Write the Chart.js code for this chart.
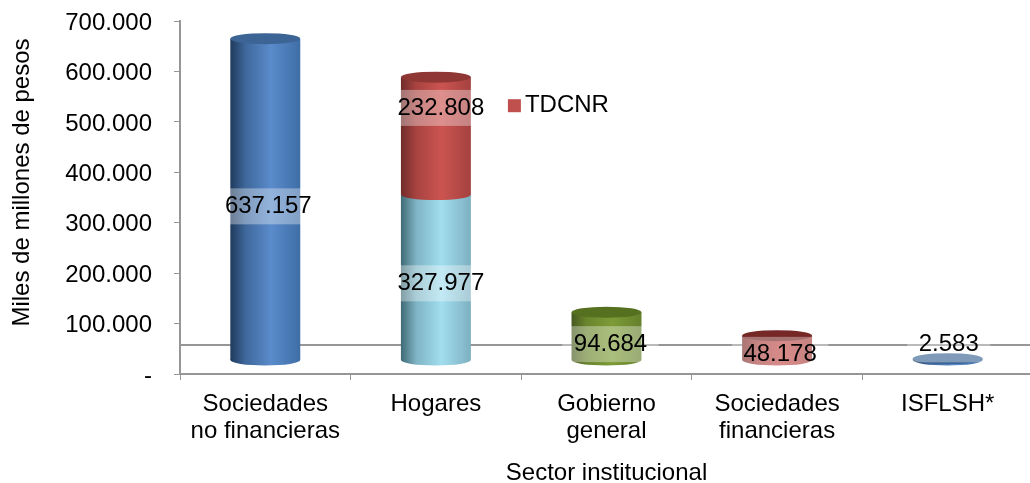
<!DOCTYPE html>
<html lang="es">
<head>
<meta charset="utf-8">
<title>Sector institucional</title>
<script src="https://cdn.jsdelivr.net/npm/chart.js@4"></script>
<style>
  html, body { margin: 0; padding: 0; background: #fff; overflow: hidden; }
  canvas { display: block; }
</style>
</head>
<body>
<!-- el eje x sale un poco del borde derecho, igual que en el original -->
<canvas id="grafico" width="1033" height="483"></canvas>
<script>
// datos
const categorias = [['Sociedades', 'no financieras'], 'Hogares', ['Gobierno', 'general'], ['Sociedades', 'financieras'], 'ISFLSH*'];
const valoresSector = [637157, 327977, 94684, 48178, 2583];
const valoresTDCNR = [null, 232808, null, null, null];
const etiquetaTDCNR = 'TDCNR';
const tituloY = 'Miles de millones de pesos';
const tituloX = 'Sector institucional';

// colores del cilindro: sombra izq, medio, brillo, der, tapa
const tonos = {
  azul: ['#1f3a5c', '#3f689c', '#5a8bcb', '#3f6ea6', '#3c6595'],
  cian: ['#3f6a76', '#7fb4c4', '#a2deef', '#7db0c0', '#7db0c0'],
  verde: ['#46591f', '#6a852d', '#7d9c37', '#64802b', '#55701f'],
  rojo: ['#6f2c2a', '#a84340', '#cb5450', '#a5413f', '#8f3734'],
  rojoOscuro: ['#7a2c2a', '#a84340', '#c44e4b', '#a5413f', '#752826']
};
const tonosSector = [tonos.azul, tonos.cian, tonos.verde, tonos.rojoOscuro, tonos.azul];
const tonosTDCNR = [null, tonos.rojo, null, null, null];

const FUENTE = '24px "Liberation Sans", Arial, sans-serif';
const GRIS = '#969696';
const PISO = 57500;          // linea del piso 3D, en unidades del eje
const DESFASE = 27760;       // las barras arrancan mas arriba que el eje por el efecto 3D
const RY = 5.5;

// ajuste de cada etiqueta respecto al centro del segmento (dx, dy)
const ajusteSector = [[3, 7], [5, 6], [4, 8], [3, 7], [1, -15]];
const ajusteTDCNR = [null, [5, -28], null, null, null];

function gradiente(chart, el, t) {
  const g = chart.ctx.createLinearGradient(el.x - el.width / 2, 0, el.x + el.width / 2, 0);
  g.addColorStop(0, t[0]);
  g.addColorStop(0.22, t[1]);
  g.addColorStop(0.58, t[2]);
  g.addColorStop(1, t[3]);
  return g;
}

function relleno(paleta) {
  return (c) => {
    const t = paleta[c.dataIndex];
    const el = c.chart.getDatasetMeta(c.datasetIndex).data[c.dataIndex];
    if (!t || !el || !c.chart.chartArea) return 'transparent';
    const x = c.chart.scales.x.getPixelForValue(c.dataIndex);
    const w = c.chart.scales.x.width / categorias.length * 0.41;
    return gradiente(c.chart, { x: x, width: w }, t);
  };
}

function elipse(ctx, x, y, rx, ry, color) {
  ctx.fillStyle = color;
  ctx.beginPath();
  ctx.ellipse(x, y, rx, ry, 0, 0, Math.PI * 2);
  ctx.fill();
}

const piso3d = {
  id: 'piso3d',
  beforeDatasetsDraw(chart) {
    const { ctx, chartArea } = chart;
    const y = chart.scales.y.getPixelForValue(PISO);
    ctx.save();
    ctx.strokeStyle = GRIS;
    ctx.lineWidth = 2;
    ctx.beginPath();
    ctx.moveTo(chartArea.left, y);
    ctx.lineTo(chartArea.right, y);
    ctx.stroke();
    ctx.restore();
  }
};

const cilindros = {
  id: 'cilindros',
  afterDatasetsDraw(chart) {
    const { ctx } = chart;
    const paletas = [tonosSector, tonosTDCNR];
    ctx.save();
    categorias.forEach((_, i) => {
      let tope = null;
      paletas.forEach((paleta, d) => {
        const el = chart.getDatasetMeta(d).data[i];
        if (!paleta[i] || !el) return;
        const p = el.getProps(['x', 'y', 'base', 'width'], true);
        elipse(ctx, p.x, p.base, p.width / 2, RY, gradiente(chart, p, paleta[i]));
        tope = { p: p, t: paleta[i] };
      });
      if (tope) elipse(ctx, tope.p.x, tope.p.y, tope.p.width / 2, RY, tope.t[4]);
    });
    ctx.restore();
  }
};

function etiqueta(ctx, texto, x, y) {
  ctx.font = FUENTE;
  const w = ctx.measureText(texto).width + 23;
  ctx.fillStyle = 'rgba(255,255,255,0.35)';
  ctx.fillRect(x - w / 2, y - 18, w, 36);
  ctx.fillStyle = '#000';
  ctx.fillText(texto, x, y);
}

const etiquetas = {
  id: 'etiquetas',
  afterDraw(chart) {
    const { ctx } = chart;
    ctx.save();
    ctx.textAlign = 'center';
    ctx.textBaseline = 'middle';
    [[valoresSector, ajusteSector], [valoresTDCNR, ajusteTDCNR]].forEach(([valores, ajuste], d) => {
      valores.forEach((v, i) => {
        if (v === null) return;
        const p = chart.getDatasetMeta(d).data[i].getProps(['x', 'y', 'base'], true);
        etiqueta(ctx, miles(v), p.x + ajuste[i][0], (p.y + p.base) / 2 + ajuste[i][1]);
      });
    });

    // leyenda, solo la serie TDCNR, dentro del area
    const ds = chart.scales.x.getPixelForValue(1);
    const ly = chart.getDatasetMeta(1).data[1].y + 28;
    ctx.fillStyle = '#c0504d';
    ctx.fillRect(ds + 72, ly - 6, 13, 13);
    ctx.fillStyle = '#000';
    ctx.textAlign = 'left';
    ctx.fillText(etiquetaTDCNR, ds + 89, ly);

    // titulo del eje y, va un poco mas arriba que el centro
    ctx.translate(22, 182.5);
    ctx.rotate(-Math.PI / 2);
    ctx.textAlign = 'center';
    ctx.fillText(tituloY, 0, 0);
    ctx.restore();
  }
};

function miles(v) {
  return String(v).replace(/\B(?=(\d{3})+$)/g, '.');
}

new Chart(document.getElementById('grafico'), {
  type: 'bar',
  data: {
    labels: categorias,
    datasets: [
      { label: 'Sector', data: valoresSector, yAxisID: 'barras', backgroundColor: relleno(tonosSector), barPercentage: 0.41, categoryPercentage: 1 },
      { label: etiquetaTDCNR, data: valoresTDCNR, yAxisID: 'barras', backgroundColor: relleno(tonosTDCNR), barPercentage: 0.41, categoryPercentage: 1 }
    ]
  },
  options: {
    responsive: false,
    animation: false,
    layout: { padding: { top: 21, right: 0, left: 0, bottom: 0 } },
    plugins: { legend: { display: false }, tooltip: { enabled: false } },
    scales: {
      x: {
        stacked: true,
        grid: { drawOnChartArea: false, color: GRIS, tickLength: 6, offset: true },
        border: { color: GRIS, width: 2 },
        ticks: { color: '#000', font: { family: '"Liberation Sans", Arial, sans-serif', size: 24, lineHeight: 1.125 }, padding: 11, maxRotation: 0, autoSkip: false },
        title: { display: true, text: tituloX, color: '#000', font: { family: '"Liberation Sans", Arial, sans-serif', size: 24 }, padding: { top: 14, bottom: -5 } },
        afterFit(s) { s.height = 109; s.paddingLeft = 0; s.paddingRight = 0; }
      },
      y: {
        min: 0,
        max: 700000,
        grid: { drawOnChartArea: false, color: GRIS, tickLength: 6 },
        border: { color: GRIS, width: 2 },
        ticks: {
          stepSize: 100000,
          color: '#000',
          // linea vacia + lineHeight chico: baja el numero 2px respecto a la marca
          font: { family: '"Liberation Sans", Arial, sans-serif', size: 24, lineHeight: 0.17 },
          padding: 22,
          callback: (v) => ['', v === 0 ? '-' : miles(v)]
        },
        afterFit(s) { s.width = 180; s.paddingTop = 0; s.paddingBottom = 0; }
      },
      barras: {
        display: false,
        stacked: true,
        min: -DESFASE,
        max: 700000 - DESFASE
      }
    }
  },
  plugins: [piso3d, cilindros, etiquetas]
});
</script>
</body>
</html>
